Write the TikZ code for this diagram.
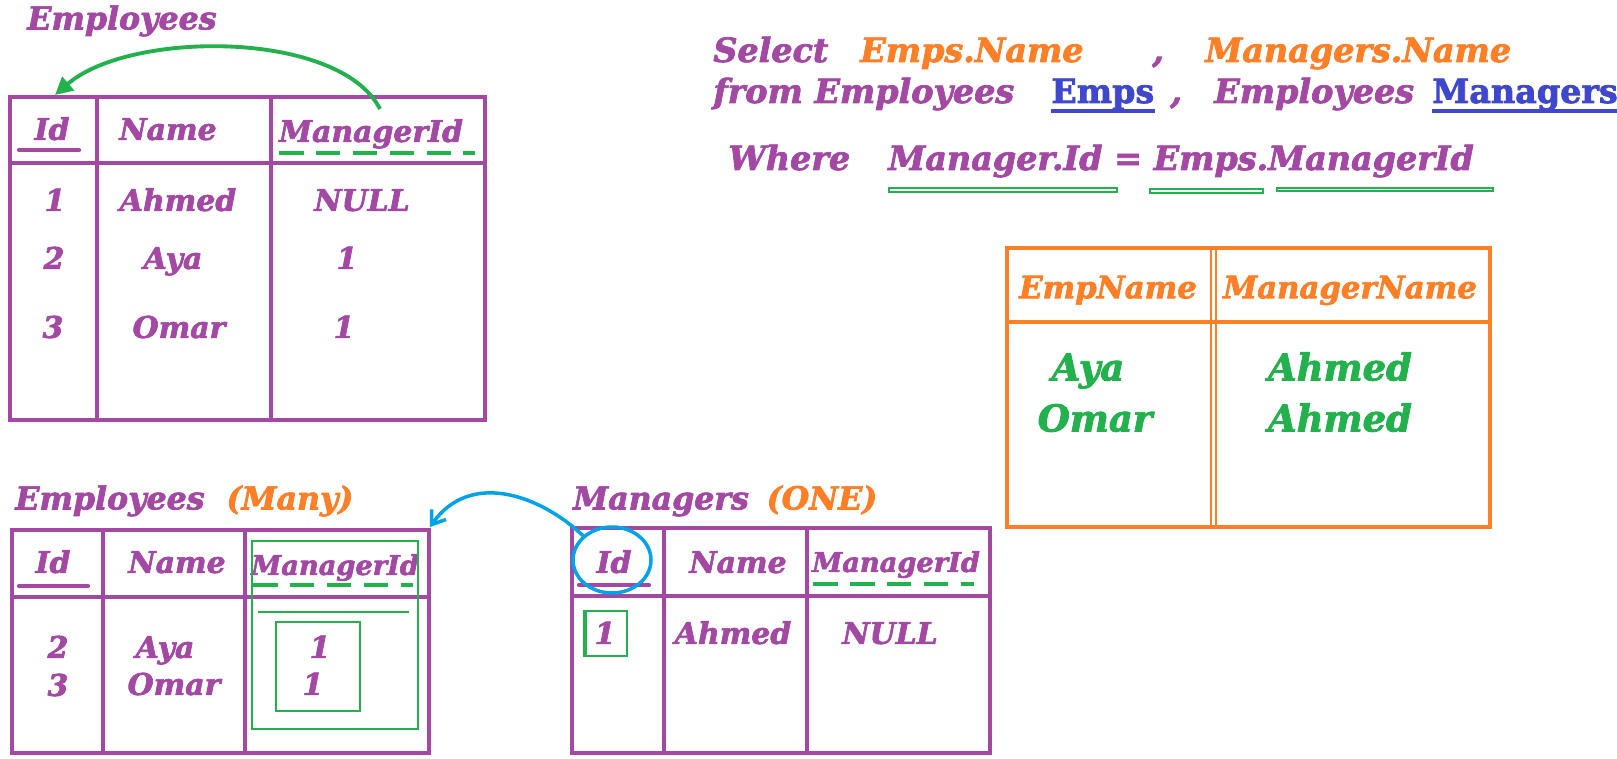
\documentclass[tikz,border=0pt]{standalone}
\usepackage{fontspec}
\setmainfont{DejaVu Serif}[BoldFeatures={FakeBold=2.2},BoldItalicFeatures={FakeBold=2.2}]
\usetikzlibrary{arrows.meta,shapes.geometric}
\definecolor{plum}{RGB}{163,73,164}
\definecolor{tang}{RGB}{255,127,39}
\definecolor{leaf}{RGB}{34,177,76}
\definecolor{ink}{RGB}{63,72,204}
\definecolor{sky}{RGB}{0,162,232}
\tikzset{
  tline/.style={draw=plum, line width=2.6pt},
  oline/.style={draw=tang, line width=2.3pt},
  keyline/.style={draw=plum, line width=2.4pt, line cap=round},
  fkline/.style={draw=leaf, line width=2.4pt, dash pattern=on 14pt off 7pt},
  thin/.style={draw=leaf, line width=0.6pt},
  cell/.style={text=plum, inner sep=0pt, font=\fontsize{17}{20}\selectfont\bfseries\itshape, text height=12.4pt, text depth=0pt},
  smallfk/.style={cell, font=\fontsize{15.5}{18}\selectfont\bfseries\itshape, text height=11.3pt},
  ocell/.style={cell, text=tang, font=\fontsize{17.5}{20}\selectfont\bfseries\itshape, text height=12.8pt},
  gcell/.style={cell, text=leaf, font=\fontsize{21}{24}\selectfont\bfseries\itshape, text height=15.3pt},
  ttl/.style={cell, font=\fontsize{18}{20}\selectfont\bfseries\itshape, text height=13pt},
  sql/.style={text=plum, inner sep=0pt, anchor=base west, font=\fontsize{19}{22}\selectfont\bfseries\itshape},
  alias/.style={sql, text=ink, font=\fontsize{19}{22}\selectfont\bfseries},
}
\begin{document}
\begin{tikzpicture}[x=0.02cm,y=-0.02cm]
\useasboundingbox[fill=white] (0,0) rectangle (1617,759);

% query
\node[sql] (sel) at (713,62) {Select};
\node[sql,text=tang] (selA) at (860,62) {Emps.Name};
\node[sql] (c1) at (1152,62) {,};
\node[sql,text=tang] (selB) at (1205,62) {Managers.Name};
\node[sql] (frm) at (713,103) {from Employees};
\node[alias] (aE) at (1051,103) {Emps};
\node[sql] (c2) at (1170,103) {,};
\node[sql] (frm2) at (1214,103) {Employees};
\node[alias] (aM) at (1432,103) {Managers};
\draw[draw=ink, line width=2.3pt] (aE.south west |- 0,111) -- (aE.south east |- 0,111);
\draw[draw=ink, line width=2.3pt] (aM.south west |- 0,111) -- (aM.south east |- 0,111);
\node[sql] (whr) at (728,170) {Where};
\node[sql] (cond) at (888,170) {Manager.Id = Emps.ManagerId};
\draw[thin] (889,188) rectangle (1117,192);
\draw[thin] (1150,189) rectangle (1263,193);
\draw[thin] (1277,188) rectangle (1493,191);

% Employees
\node[ttl] (tA) at (122,18) {Employees};
\draw[tline] (10,97) rectangle (485,420);
\draw[tline] (10,163) -- (485,163);
\draw[tline] (97,97) -- (97,420);
\draw[tline] (271,97) -- (271,420);
\node[cell] (idA) at (52,129) {Id};
\node[cell] (nmA) at (168,129) {Name};
\node[cell] (mgA) at (371,131) {ManagerId};
\draw[keyline] (19,150) -- (79,150);
\draw[fkline] (279,153) -- (475,153);
\node[cell] (a11) at (55,200) {1};
\node[cell] (a12) at (178,200) {Ahmed};
\node[cell] (a13) at (362,200) {NULL};
\node[cell] (a21) at (54,258) {2};
\node[cell] (a22) at (173,258) {Aya};
\node[cell] (a23) at (347,258) {1};
\node[cell] (a31) at (53,327) {3};
\node[cell] (a32) at (179,327) {Omar};
\node[cell] (a33) at (344,327) {1};
\coordinate (gS) at (380,109);
\coordinate (gE) at (55,95);
\draw[draw=leaf, line width=2.2pt, -{Triangle[length=10pt,width=10pt]}] (gS) .. controls (340,30) and (130,30) .. (gE);

% Employees (Many)
\node[ttl] (tB) at (110,498) {Employees};
\node[ttl,text=tang] (tBm) at (290,498) {(Many)};
\draw[tline] (12,530) rectangle (429,753);
\draw[tline] (12,597) -- (429,597);
\draw[tline] (103,530) -- (103,753);
\draw[tline] (245,530) -- (245,753);
\node[cell] (idB) at (53,562) {Id};
\node[cell] (nmB) at (177,562) {Name};
\node[smallfk] (mgB) at (335,565) {ManagerId};
\draw[keyline] (19,586) -- (88,586);
\draw[fkline] (253,585) -- (413,585);
\draw[thin] (252,541) rectangle (418,729);
\draw[thin, line width=1.2pt] (258,612) -- (409,612);
\draw[thin] (276,622) rectangle (360,711);
\node[cell] (b11) at (58,647) {2};
\node[cell] (b12) at (165,647) {Aya};
\node[cell] (b13) at (320,647) {1};
\node[cell] (b21) at (58,685) {3};
\node[cell] (b22) at (174,684) {Omar};
\node[cell] (b23) at (313,684) {1};

% Managers (ONE)
\node[ttl] (tC) at (661,498) {Managers};
\node[ttl,text=tang] (tCo) at (822,498) {(ONE)};
\draw[tline] (572,528) rectangle (990,753);
\draw[tline] (572,596) -- (990,596);
\draw[tline] (664,528) -- (664,753);
\draw[tline] (807,528) -- (807,753);
\node[cell] (idC) at (614,562) {Id};
\node[cell] (nmC) at (738,562) {Name};
\node[smallfk] (mgC) at (896,562) {ManagerId};
\draw[keyline] (579,585) -- (649,585);
\draw[fkline] (813,584) -- (974,584);
\node[cell] (c11) at (605,633) {1};
\node[cell] (c12) at (733,633) {Ahmed};
\node[cell] (c13) at (890,633) {NULL};
\draw[thin] (584,611) rectangle (627,656);
\draw[thin] (586,611) -- (586,656);
\node[draw=sky, line width=2pt, ellipse, minimum width=1.56cm, minimum height=1.32cm] (ring) at (612,560) {};
\coordinate (bE) at (430,527);
\draw[draw=sky, line width=2pt, -{Straight Barb[length=7pt,width=10pt]}] (ring.140) .. controls (540,495) and (470,470) .. (bE);

% result
\draw[oline] (1007,248) rectangle (1490,527);
\draw[oline] (1007,322) -- (1490,322);
\draw[oline, line width=1.6pt] (1211,248) -- (1211,527);
\draw[oline, line width=1.6pt] (1216,248) -- (1216,527);
\node[ocell] (rh1) at (1108,287) {EmpName};
\node[ocell] (rh2) at (1350,287) {ManagerName};
\node[gcell] (r11) at (1088,367) {Aya};
\node[gcell] (r12) at (1340,367) {Ahmed};
\node[gcell] (r21) at (1095,418) {Omar};
\node[gcell] (r22) at (1340,418) {Ahmed};
\end{tikzpicture}
\end{document}
